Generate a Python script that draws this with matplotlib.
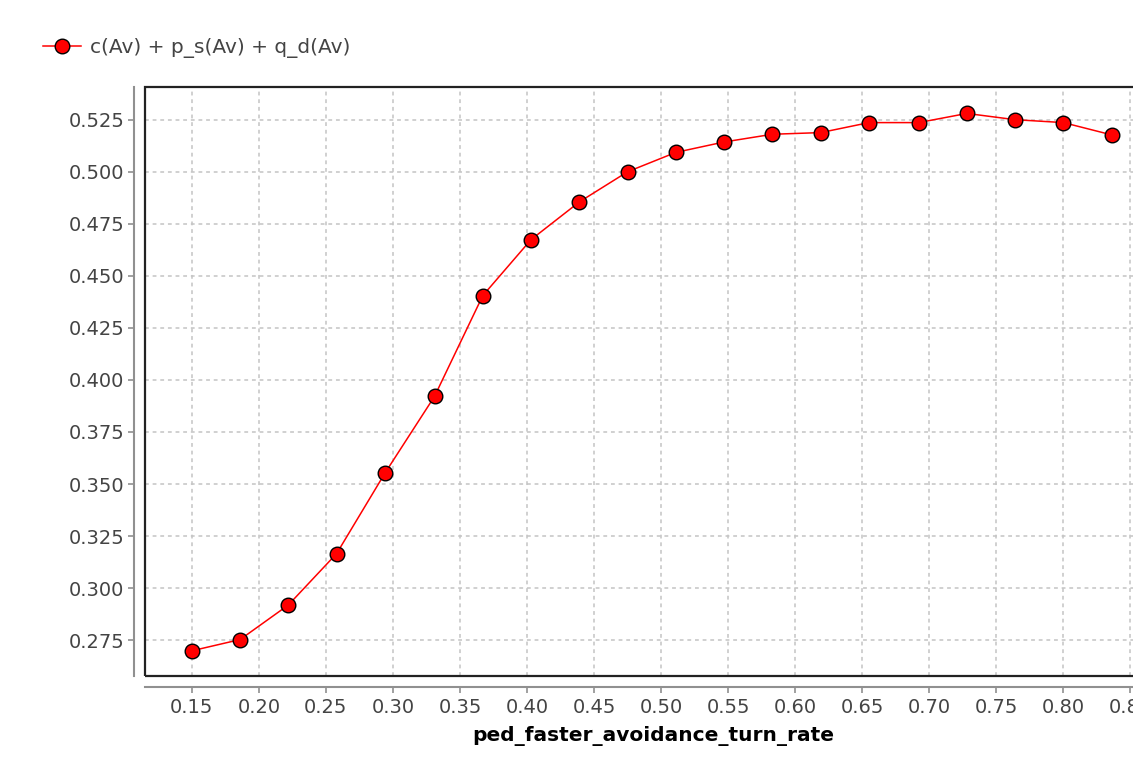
import matplotlib
matplotlib.use("Agg")
import matplotlib.pyplot as plt
from matplotlib.patches import Rectangle

# data
turn_rate = [0.150, 0.186, 0.222, 0.258, 0.294, 0.331, 0.367, 0.403, 0.439, 0.475,
             0.511, 0.547, 0.583, 0.619, 0.655, 0.692, 0.728, 0.764, 0.800, 0.836]
score = [0.2699, 0.2753, 0.2919, 0.3166, 0.3552, 0.3921, 0.4405, 0.4674, 0.4855, 0.5000,
         0.5093, 0.5143, 0.5180, 0.5188, 0.5236, 0.5236, 0.5280, 0.5250, 0.5236, 0.5177]
series_label = "c(Av) + p_s(Av) + q_d(Av)"
x_label = "ped_faster_avoidance_turn_rate"
x_ticks = [0.15, 0.20, 0.25, 0.30, 0.35, 0.40, 0.45, 0.50, 0.55, 0.60,
           0.65, 0.70, 0.75, 0.80, 0.85]
y_ticks = [0.275, 0.300, 0.325, 0.350, 0.375, 0.400, 0.425, 0.450, 0.475, 0.500, 0.525]

W, H = 1133, 757
fig = plt.figure(figsize=(W / 100, H / 100), dpi=100)
fig.patch.set_facecolor("white")

left, right, top, bottom = 145, 1162, 87, 676
ax = fig.add_axes([left / W, 1 - bottom / H, (right - left) / W, (bottom - top) / H])

line, = ax.plot(turn_rate, score, color="#ff0000", lw=1.1, marker="o", markersize=10.5,
                markerfacecolor="#ff0000", markeredgecolor="black", markeredgewidth=1.0,
                zorder=3, clip_on=False)

ax.set_xlim(0.1151, 0.8735)
ax.set_ylim(0.2578, 0.5407)
ax.set_xticks(x_ticks)
ax.set_yticks(y_ticks)
ax.set_xticklabels(["%.2f" % v for v in x_ticks])
ax.set_yticklabels(["%.3f" % v for v in y_ticks])

ax.grid(True, color="#c4c4c4", linestyle=(0, (2.5, 2.5)), linewidth=1.1)
ax.set_axisbelow(True)

# JFreeChart style: axes offset from the plot outline
for side in ("top", "right"):
    ax.spines[side].set_visible(False)
for side in ("left", "bottom"):
    ax.spines[side].set_position(("outward", 8))
    ax.spines[side].set_color("#909090")
    ax.spines[side].set_linewidth(1.5)
ax.add_patch(Rectangle((0, 0), 1, 1, transform=ax.transAxes, fill=False,
                       edgecolor="#222222", linewidth=1.6, clip_on=False, zorder=4))

ax.tick_params(axis="both", colors="#909090", length=4, width=1.2,
               labelcolor="#444444", labelsize=14)
ax.tick_params(axis="x", pad=4)
ax.tick_params(axis="y", pad=3)

ax.set_xlabel(x_label, fontsize=14.5, fontweight="bold", color="black", labelpad=6)

fig.legend([line], [series_label], loc="upper left", bbox_to_anchor=(43 / W, 1 - 38 / H),
           frameon=False, fontsize=14.5, labelcolor="#444444", handlelength=1.9,
           handletextpad=0.45, borderpad=0, borderaxespad=0)

fig.savefig("out.png", dpi=100)
